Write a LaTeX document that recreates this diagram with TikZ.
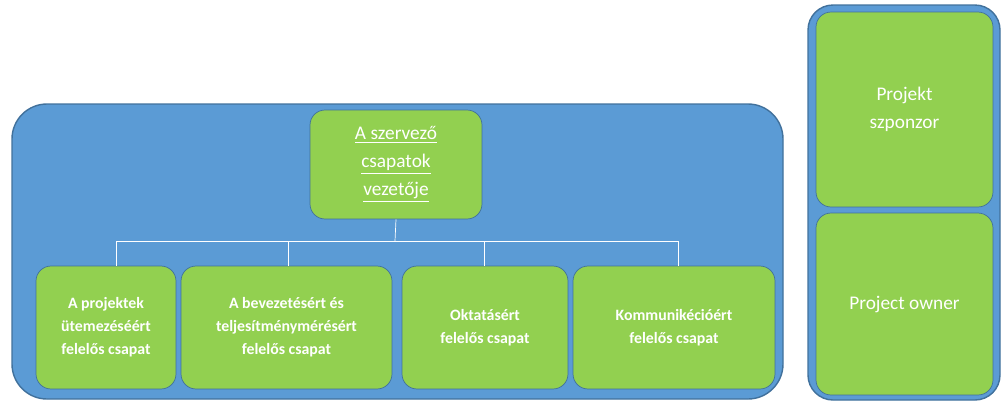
\documentclass[tikz,border=0pt]{standalone}
\usepackage{fontspec}
\setmainfont{Carlito}
\usetikzlibrary{positioning}
\definecolor{panelblue}{HTML}{5B9BD5}
\definecolor{edgeblue}{HTML}{41719C}
\definecolor{boxgreen}{HTML}{92D050}
\begin{document}
\begin{tikzpicture}[x=0.02cm,y=-0.02cm]
\tikzstyle{panel} = [draw=edgeblue, fill=panelblue, thick]
\tikzstyle{team} = [rectangle, draw=edgeblue, fill=boxgreen, rounded corners=3mm,
text=white, align=center, font=\fontsize{9}{13}\selectfont\bfseries, inner sep=0pt]
\tikzstyle{lead} = [rectangle, draw=edgeblue, fill=boxgreen, rounded corners=3mm,
text=white, align=center, font=\fontsize{11}{16}\selectfont, inner sep=0pt]
\tikzstyle{link} = [draw=white, thin]
\useasboundingbox (0,0) rectangle (1005,407);
% panels
\draw [panel, rounded corners=7mm] (12,104) rectangle (783,399);
\draw [panel, rounded corners=5mm] (808,5) rectangle (1000,400);
% row 1
\node [lead, minimum width=3.44cm, minimum height=2.18cm] (head) at (396,164.5)
 {\underline{A szervező}\\\underline{csapatok}\\\underline{vezetője}};
% row 2
\node [team, minimum width=2.8cm, minimum height=2.46cm] (sched) at (106,327.5)
 {A projektek\\ütemezéséért\\felelős csapat};
\node [team, minimum width=4.22cm, minimum height=2.46cm] (intro) at (286.5,327.5)
 {A bevezetésért és\\teljesítménymérésért\\felelős csapat};
\node [team, minimum width=3.32cm, minimum height=2.46cm] (edu) at (485,327.5)
 {Oktatásért\\felelős csapat};
\node [team, minimum width=4.04cm, minimum height=2.46cm] (comm) at (674,327.5)
 {Kommunikécióért\\felelős csapat};
% right column
\node [lead, minimum width=3.54cm, minimum height=3.9cm] (sponsor) at (904.5,109.5)
 {Projekt\\szponzor};
\node [lead, minimum width=3.54cm, minimum height=3.64cm] (owner) at (904.5,304)
 {Project owner};
% connectors
\coordinate (hub) at (395,241);
\coordinate (hubL) at (116,241);
\coordinate (hubR) at (678,241);
\path [link] (head.south) -- (hub);
\path [link] (hubL) -- (hubR);
\path [link] (hubL) -- (hubL |- sched.north);
\path [link] (288,241) -- (288,0 |- intro.north);
\path [link] (484,241) -- (484,0 |- edu.north);
\path [link] (hubR) -- (hubR |- comm.north);
\end{tikzpicture}
\end{document}
